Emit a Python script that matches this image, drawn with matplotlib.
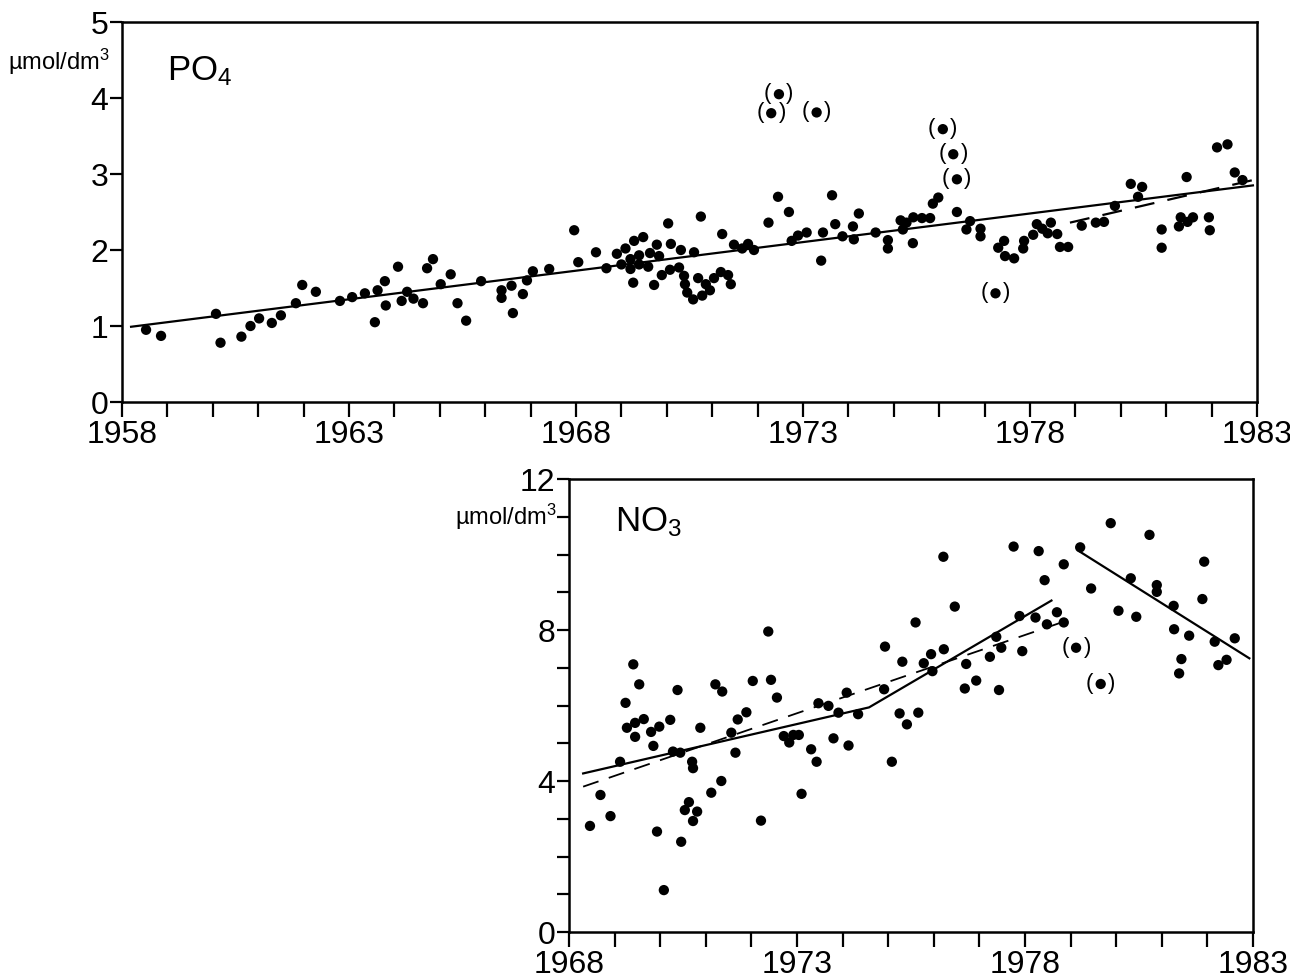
import numpy as np
import matplotlib
matplotlib.use('Agg')
import matplotlib.pyplot as plt
from matplotlib.ticker import MultipleLocator, FixedLocator

plt.rcParams['font.family'] = ['Liberation Sans', 'DejaVu Sans']
plt.rcParams['mathtext.fontset'] = 'custom'
plt.rcParams['mathtext.rm'] = 'Liberation Sans'
plt.rcParams['mathtext.it'] = 'Liberation Sans'

# PO4 monthly observations (year, umol/dm3)
po4_year = [1958.53, 1958.86, 1960.07, 1960.17, 1960.63, 1960.83, 1961.02, 1961.30, 1961.50,
            1961.83, 1961.97, 1962.27, 1962.80, 1963.07, 1963.35, 1963.57, 1963.63, 1963.79,
            1963.81, 1964.08, 1964.16, 1964.28, 1964.42, 1964.63, 1964.72, 1964.85, 1965.02,
            1965.24, 1965.39, 1965.58, 1965.91, 1966.36, 1966.36, 1966.58, 1966.61, 1966.83,
            1966.92, 1967.05, 1967.41, 1967.96, 1968.05, 1968.44, 1968.67, 1968.90, 1969.00,
            1969.09, 1969.20, 1969.20, 1969.26, 1969.28, 1969.39, 1969.39, 1969.48, 1969.59,
            1969.63, 1969.72, 1969.78, 1969.83, 1969.89, 1970.03, 1970.07, 1970.09, 1970.27,
            1970.31, 1970.38, 1970.40, 1970.45, 1970.58, 1970.60, 1970.69, 1970.75, 1970.78,
            1970.86, 1970.95, 1971.04, 1971.19, 1971.22, 1971.35, 1971.41, 1971.48, 1971.66,
            1971.79, 1971.92, 1972.24, 1972.45, 1972.69, 1972.75, 1972.89, 1973.08, 1973.40,
            1973.44, 1973.64, 1973.71, 1973.87, 1974.10, 1974.12, 1974.23, 1974.60, 1974.87,
            1974.87, 1975.15, 1975.20, 1975.28, 1975.42, 1975.43, 1975.62, 1975.80, 1975.86,
            1975.98, 1976.39, 1976.60, 1976.68, 1976.91, 1976.91, 1977.30, 1977.43, 1977.45,
            1977.65, 1977.85, 1977.87, 1978.07, 1978.15, 1978.27, 1978.39, 1978.46, 1978.60,
            1978.66, 1978.84, 1979.14, 1979.45, 1979.63, 1979.87, 1980.22, 1980.38, 1980.47,
            1980.90, 1980.90, 1981.28, 1981.32, 1981.45, 1981.47, 1981.59, 1981.94, 1981.96,
            1982.12, 1982.35, 1982.51, 1982.68]
po4_val = [0.95, 0.87, 1.16, 0.78, 0.86, 1.00, 1.10, 1.04, 1.14,
           1.30, 1.54, 1.45, 1.33, 1.38, 1.43, 1.05, 1.47, 1.59,
           1.27, 1.78, 1.33, 1.45, 1.36, 1.30, 1.76, 1.88, 1.55,
           1.68, 1.30, 1.07, 1.59, 1.47, 1.37, 1.53, 1.17, 1.42,
           1.60, 1.72, 1.75, 2.26, 1.84, 1.97, 1.76, 1.95, 1.81,
           2.02, 1.88, 1.75, 1.57, 2.12, 1.93, 1.81, 2.17, 1.78,
           1.96, 1.54, 2.07, 1.92, 1.67, 2.35, 1.74, 2.08, 1.77,
           2.00, 1.66, 1.55, 1.44, 1.35, 1.97, 1.63, 2.44, 1.40,
           1.55, 1.47, 1.63, 1.71, 2.21, 1.67, 1.55, 2.07, 2.02,
           2.08, 2.00, 2.36, 2.70, 2.50, 2.12, 2.19, 2.23, 1.86,
           2.23, 2.72, 2.34, 2.18, 2.31, 2.14, 2.48, 2.23, 2.13,
           2.02, 2.39, 2.27, 2.36, 2.09, 2.43, 2.42, 2.42, 2.61,
           2.69, 2.50, 2.27, 2.38, 2.28, 2.18, 2.03, 2.12, 1.92,
           1.89, 2.02, 2.12, 2.20, 2.34, 2.28, 2.22, 2.36, 2.21,
           2.04, 2.04, 2.32, 2.36, 2.37, 2.58, 2.87, 2.70, 2.83,
           2.27, 2.03, 2.31, 2.43, 2.96, 2.37, 2.43, 2.43, 2.26,
           3.35, 3.39, 3.02, 2.92]
# PO4 values marked as doubtful (in brackets)
po4_out_year = [1972.30, 1972.47, 1973.30, 1976.08, 1976.31, 1976.39, 1977.24]
po4_out_val = [3.80, 4.05, 3.81, 3.59, 3.26, 2.93, 1.43]
# PO4 trend lines
po4_trend_year = [1958.2, 1982.91]
po4_trend_val = [0.99, 2.85]
po4_dash_year = [1978.88, 1982.91]
po4_dash_val = [2.36, 2.92]

# NO3 monthly observations
no3_year = [1968.46, 1968.69, 1968.91, 1969.12, 1969.24, 1969.27, 1969.41, 1969.45, 1969.45,
            1969.54, 1969.64, 1969.80, 1969.85, 1969.93, 1969.98, 1970.08, 1970.22, 1970.28,
            1970.38, 1970.44, 1970.46, 1970.54, 1970.63, 1970.70, 1970.72, 1970.72, 1970.81,
            1970.88, 1971.12, 1971.21, 1971.36, 1971.34, 1971.56, 1971.65, 1971.70, 1971.89,
            1972.03, 1972.21, 1972.37, 1972.43, 1972.56, 1972.71, 1972.83, 1972.92, 1973.04,
            1973.10, 1973.31, 1973.43, 1973.47, 1973.69, 1973.80, 1973.91, 1974.09, 1974.13,
            1974.34, 1974.93, 1974.91, 1975.08, 1975.25, 1975.31, 1975.41, 1975.60, 1975.66,
            1975.78, 1975.94, 1975.97, 1976.22, 1976.21, 1976.46, 1976.68, 1976.71, 1976.93,
            1977.23, 1977.37, 1977.43, 1977.48, 1977.75, 1977.88, 1977.94, 1978.23, 1978.30,
            1978.43, 1978.48, 1978.70, 1978.85, 1978.85, 1979.21, 1979.45, 1979.88, 1980.05,
            1980.32, 1980.44, 1980.73, 1980.89, 1980.89, 1981.26, 1981.27, 1981.38, 1981.43,
            1981.60, 1981.89, 1981.93, 1982.16, 1982.24, 1982.42, 1982.60]
no3_val = [2.81, 3.63, 3.07, 4.51, 6.07, 5.41, 7.09, 5.54, 5.17,
           6.56, 5.64, 5.30, 4.93, 2.66, 5.44, 1.11, 5.62, 4.78,
           6.41, 4.75, 2.39, 3.23, 3.44, 4.51, 4.34, 2.94, 3.19,
           5.41, 3.69, 6.56, 6.37, 4.00, 5.28, 4.75, 5.63, 5.82,
           6.65, 2.95, 7.96, 6.68, 6.21, 5.19, 5.02, 5.22, 5.22,
           3.66, 4.84, 4.51, 6.06, 5.99, 5.13, 5.81, 6.34, 4.94,
           5.77, 7.56, 6.43, 4.51, 5.79, 7.16, 5.50, 8.20, 5.81,
           7.12, 7.36, 6.91, 7.49, 9.94, 8.62, 6.45, 7.10, 6.66,
           7.29, 7.82, 6.41, 7.53, 10.21, 8.37, 7.44, 8.33, 10.09,
           9.32, 8.15, 8.47, 9.74, 8.20, 10.19, 9.10, 10.83, 8.51,
           9.37, 8.35, 10.52, 9.19, 9.01, 8.64, 8.02, 6.85, 7.23,
           7.85, 8.82, 9.81, 7.69, 7.07, 7.21, 7.78]
no3_out_year = [1979.12, 1979.66]
no3_out_val = [7.53, 6.57]
# NO3 trend lines: piecewise solid, dashed running fit
no3_seg1_year = [1968.31, 1974.58, 1978.58]
no3_seg1_val = [4.20, 5.95, 8.78]
no3_seg2_year = [1979.21, 1982.92]
no3_seg2_val = [10.07, 7.25]
no3_dash_year = [1968.31, 1978.80]
no3_dash_val = [3.85, 8.20]

W, H = 1290, 980
fig = plt.figure(figsize=(W / 100, H / 100), dpi=100)
ax1 = fig.add_axes([122 / W, 1 - 402 / H, (1257 - 122) / W, (402 - 22) / H])
ax2 = fig.add_axes([569 / W, 1 - 932 / H, (1253 - 569) / W, (932 - 479) / H])

dot = dict(s=55, color='black', edgecolors='none', zorder=3)


def bracket(ax, xs, ys):
    ax.scatter(xs, ys, **dot)
    for x, y in zip(xs, ys):
        ax.annotate('(', (x, y), xytext=(-8, 0.5), textcoords='offset points',
                    ha='center', va='center', fontsize=16)
        ax.annotate(')', (x, y), xytext=(8, 0.5), textcoords='offset points',
                    ha='center', va='center', fontsize=16)


def style(ax, x0, x1):
    for s in ax.spines.values():
        s.set_linewidth(1.8)
    ax.set_xlim(x0, x1)
    ax.xaxis.set_major_locator(FixedLocator(np.arange(x0, x1 + 1, 5)))
    ax.xaxis.set_minor_locator(MultipleLocator(1))
    ax.tick_params(axis='x', which='both', direction='out', length=11, width=1.6,
                   labelsize=23, pad=2)
    ax.tick_params(axis='y', which='both', direction='out', length=9, width=1.6,
                   labelsize=23, pad=1)


# --- PO4 ---
ax1.scatter(po4_year, po4_val, **dot)
bracket(ax1, po4_out_year, po4_out_val)
ax1.plot(po4_trend_year, po4_trend_val, color='black', lw=1.6)
ax1.plot(po4_dash_year, po4_dash_val, color='black', lw=1.6, dashes=(9, 6))
style(ax1, 1958, 1983)
ax1.set_ylim(0, 5)
ax1.set_yticks([0, 1, 2, 3, 4, 5])
ax1.text(-0.011, 4.47, 'µmol/dm$^3$', transform=ax1.get_yaxis_transform(),
         ha='right', va='center', fontsize=17)
ax1.text(1959.0, 4.35, 'PO$_4$', fontsize=25, ha='left', va='center')

# --- NO3 ---
ax2.scatter(no3_year, no3_val, **dot)
bracket(ax2, no3_out_year, no3_out_val)
ax2.plot(no3_seg1_year, no3_seg1_val, color='black', lw=1.6)
ax2.plot(no3_seg2_year, no3_seg2_val, color='black', lw=1.6)
ax2.plot(no3_dash_year, no3_dash_val, color='black', lw=1.3, dashes=(9, 6))
style(ax2, 1968, 1983)
ax2.set_ylim(0, 12)
ax2.yaxis.set_major_locator(MultipleLocator(4))
ax2.yaxis.set_minor_locator(MultipleLocator(1))
ax2.text(-0.018, 11.0, 'µmol/dm$^3$', transform=ax2.get_yaxis_transform(),
         ha='right', va='center', fontsize=17)
ax2.text(1969.0, 10.85, 'NO$_3$', fontsize=25, ha='left', va='center')

fig.savefig('out.png', dpi=100, facecolor='white')
